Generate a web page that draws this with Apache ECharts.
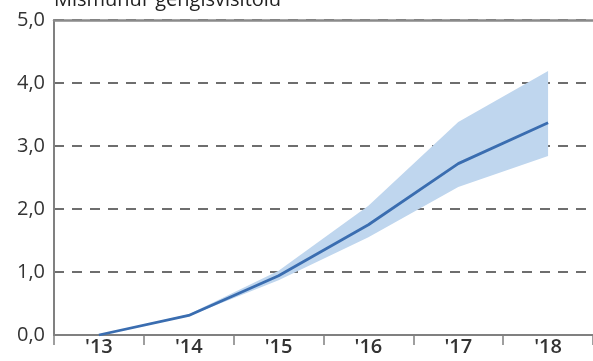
<!DOCTYPE html>
<html>
<head>
<meta charset="utf-8">
<script src="https://cdn.jsdelivr.net/npm/echarts@6/dist/echarts.min.js"></script>
<style>
  html, body { margin: 0; padding: 0; background: #fff; }
  #chart { width: 593px; height: 361px; }
</style>
</head>
<body>
<div id="chart"></div>
<script>
// Years on the horizontal axis
const years = ["'13", "'14", "'15", "'16", "'17", "'18"];
// Central estimate
const central = [0.0, 0.31, 0.94, 1.75, 2.72, 3.37];
// Lower and upper bounds of the shaded range
const lower = [0.0, 0.30, 0.87, 1.55, 2.35, 2.84];
const upper = [0.0, 0.33, 1.02, 2.05, 3.38, 4.19];
// Vertical axis
const yTicks = [0, 1, 2, 3, 4, 5];
const titleText = 'Mismunur gengisvísitölu';

const bandWidth = upper.map((u, i) => +(u - lower[i]).toFixed(3));
const fontFamily = '"Open Sans", "Noto Sans", sans-serif';

const chart = echarts.init(document.getElementById('chart'), null, { renderer: 'canvas' });
chart.setOption({
  animation: false,
  backgroundColor: '#ffffff',
  graphic: [{
    type: 'text',
    left: 54,
    top: -10,
    style: { text: titleText, fontSize: 20, fontFamily: fontFamily, fill: '#222' }
  }],
  grid: { left: 54, top: 20, width: 541, height: 315 },
  xAxis: [{
    type: 'category',
    data: years,
    boundaryGap: true,
    axisLine: { lineStyle: { color: '#808080', width: 2 } },
    axisTick: { show: true, length: 10, lineStyle: { color: '#808080', width: 1.5 } },
    axisLabel: { color: '#333', fontSize: 20, fontWeight: 600, fontFamily: fontFamily, margin: 2 }
  }, {
    type: 'category',
    position: 'top',
    data: years,
    axisLine: { show: true, lineStyle: { color: '#8a8a8a', width: 2.5 } },
    axisTick: { show: false },
    axisLabel: { show: false }
  }],
  yAxis: {
    type: 'value',
    min: yTicks[0],
    max: yTicks[yTicks.length - 1],
    interval: 1,
    axisLine: { show: true, lineStyle: { color: '#808080', width: 2 } },
    axisTick: { show: false },
    axisLabel: {
      color: '#333', fontSize: 20, fontFamily: fontFamily, margin: 9,
      formatter: v => v.toFixed(1).replace('.', ',')
    },
    splitLine: {
      show: true,
      lineStyle: { color: '#6e6e6e', width: 2, type: [10, 8] }
    }
  },
  series: [
    {
      name: 'lower',
      type: 'line',
      data: lower,
      stack: 'band',
      symbol: 'none',
      lineStyle: { opacity: 0 },
      silent: true
    },
    {
      name: 'range',
      type: 'line',
      data: bandWidth,
      stack: 'band',
      symbol: 'none',
      lineStyle: { opacity: 0 },
      areaStyle: { color: '#bfd6ee', opacity: 1 },
      silent: true
    },
    {
      name: 'central',
      type: 'line',
      data: central,
      symbol: 'none',
      lineStyle: { color: '#3a6db0', width: 2.8 },
      z: 5
    }
  ]
});
</script>
</body>
</html>
